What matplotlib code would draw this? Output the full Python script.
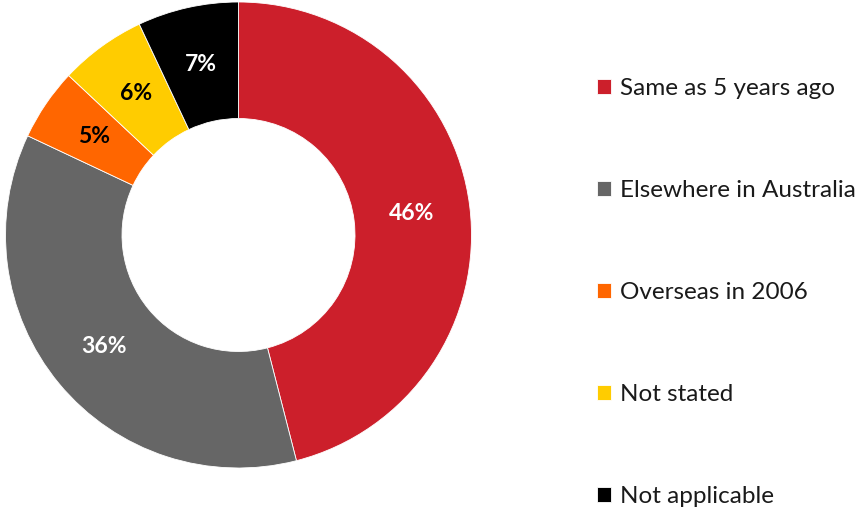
import matplotlib
matplotlib.use("Agg")
import matplotlib.pyplot as plt

categories = ["Same as 5 years ago", "Elsewhere in Australia", "Overseas in 2006",
              "Not stated", "Not applicable"]
values = [46, 36, 5, 6, 7]
colors = ["#CC1F2B", "#666666", "#FF6600", "#FFCC00", "#000000"]
label_colors = ["white", "white", "black", "black", "white"]

plt.rcParams['font.family'] = ['Lato', 'DejaVu Sans']

W, H = 859, 511
fig = plt.figure(figsize=(W / 100, H / 100), dpi=100)

# donut centred at (238.5, 235) px, outer radius 233 px
cx, cy, r = 238.5, 235, 233
ax = fig.add_axes([(cx - r) / W, (H - cy - r) / H, 2 * r / W, 2 * r / H])

wedges, texts, autotexts = ax.pie(
    values, colors=colors, startangle=90, counterclock=False,
    radius=1, autopct=lambda p: f"{p:.0f}%", pctdistance=0.75,
    wedgeprops=dict(width=0.5, edgecolor="white", linewidth=0.6),
    textprops=dict(fontsize=16.5, fontweight="bold"))
for t, c in zip(autotexts, label_colors):
    t.set_color(c)
ax.set_xlim(-1, 1)
ax.set_ylim(-1, 1)
ax.set_aspect("equal")
ax.axis("off")

leg = fig.legend(wedges, categories, loc="upper left",
                 bbox_to_anchor=(597 / W, 1 - 78 / H),
                 frameon=False, fontsize=17.5, handlelength=0.58, handleheight=0.58,
                 handletextpad=0.35, labelspacing=3.33, borderaxespad=0, borderpad=0)
for t in leg.get_texts():
    t.set_color("#1a1a1a")

fig.savefig("out.png", dpi=100)
